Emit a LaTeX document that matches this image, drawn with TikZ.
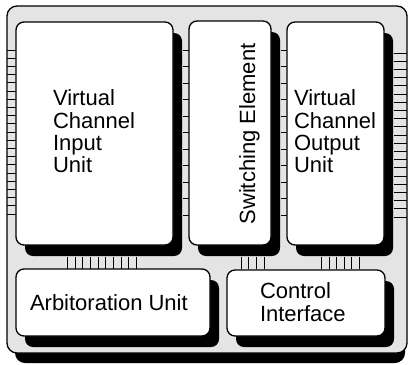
\documentclass[tikz,border=0pt]{standalone}
\usepackage{fontspec}
\setmainfont{Liberation Sans}
\definecolor{panelgray}{RGB}{228,228,228}
\pgfdeclarelayer{back}
\pgfdeclarelayer{shade}
\pgfsetlayers{back,shade,main}
\begin{document}
\begin{tikzpicture}[x=1pt,y=-1pt,
  panel/.style={fill=panelgray,draw=black,line width=1.3pt,rounded corners=10pt,
    inner sep=0pt,outer sep=0pt},
  unit/.style={fill=white,draw=black,line width=1.3pt,rounded corners=8pt,
    inner sep=0pt,outer sep=0pt},
  shade/.style={fill=black,rounded corners=8pt},
  rung/.style={line width=0.8pt},
  label/.style={font=\fontsize{22}{22.3}\selectfont,align=left,inner sep=0pt,outer sep=0pt}]
\useasboundingbox (0,0) rectangle (411,364);

% outer board and its shadow
\begin{pgfonlayer}{back}
  \fill[shade,rounded corners=10pt] (15,15) rectangle (405,363);
  \node[panel,minimum width=400pt,minimum height=347pt] (board) at (207,179.5) {};
\end{pgfonlayer}

% functional units
\node[unit,minimum width=157pt,minimum height=223pt] (vcin)  at (94.5,133.5) {};
\node[unit,minimum width=82pt, minimum height=224pt] (sw)    at (230,133) {};
\node[unit,minimum width=97pt, minimum height=223pt] (vcout) at (335.5,133.5) {};
\node[unit,minimum width=194pt,minimum height=67pt]  (arb)   at (113,302.5) {};
\node[unit,minimum width=158pt,minimum height=66pt]  (ctrl)  at (306,303) {};

% drop shadows of the units
\begin{pgfonlayer}{shade}
  \foreach \b in {vcin,sw,vcout,arb,ctrl}
    \fill[shade] ([shift={(9,11)}]\b.north west) rectangle ([shift={(9,11)}]\b.south east);
\end{pgfonlayer}

% labels
\node[label,anchor=north west] (vcintext) at (53,90) {Virtual\\Channel\\Input\\Unit};
\node[label,anchor=north west] (vcouttext) at (294,90) {Virtual\\Channel\\Output\\Unit};
\node[label,anchor=base,rotate=90] (swtext) at (255,134) {Switching Element};
\node[label,anchor=base west] (arbtext) at (30,310) {Arbitoration Unit};
\node[label,anchor=north west] (ctrltext) at (260,283) {Control\\Interface};

% pin ladders on the left and right edges
\foreach \k in {0,...,20} {
  \draw[rung] (board.west |- 0,{50+8.2*\k}) -- (vcin.west |- 0,{50+8.2*\k});
  \draw[rung] (vcout.east |- 0,{53+8.2*\k}) ++(10,0) -- (board.east |- 0,{53+8.2*\k});
}
% sparse ladders between the columns
\foreach \k in {0,...,10} {
  \draw[rung] (183,{50+16.5*\k}) -- (sw.west |- 0,{50+16.5*\k});
  \draw[rung] (281,{50+16.5*\k}) -- (vcout.west |- 0,{50+16.5*\k});
}
% ladders between the columns and the lower units
\foreach \k in {0,...,9}
  \draw[rung] ({67.3+7.67*\k},257) -- ({67.3+7.67*\k},269);
\foreach \k in {0,...,3}
  \draw[rung] ({241+7.8*\k},257) -- ({241+7.8*\k},269);
\foreach \k in {0,...,5}
  \draw[rung] ({321.7+7.5*\k},257) -- ({321.7+7.5*\k},269);
\end{tikzpicture}
\end{document}
